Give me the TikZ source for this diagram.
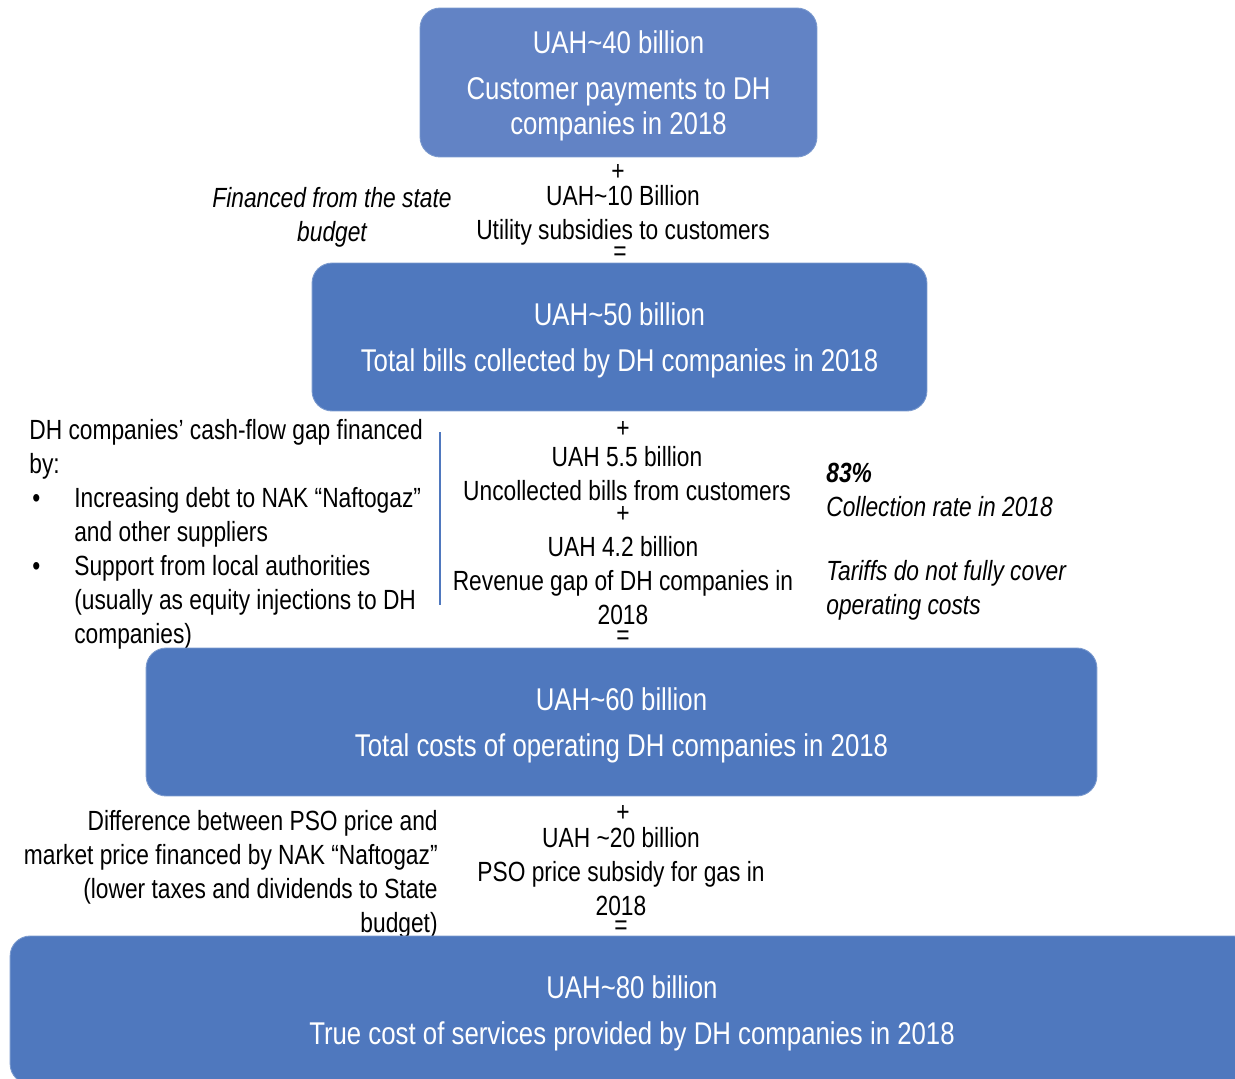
\documentclass[tikz,border=0pt]{standalone}
\usepackage{fontspec}
\setmainfont{Liberation Sans}[FakeStretch=0.82]
\definecolor{topblue}{HTML}{6283C5}
\definecolor{boxblue}{HTML}{4F78BE}
\newcommand\apx{\textasciitilde}
\newcommand\bul{\hspace*{0.06cm}\makebox[0.84cm][l]{\textbullet}}
\newcommand\ind{\hspace*{0.9cm}}
\begin{document}
\begin{tikzpicture}[x=0.02cm,y=-0.02cm,
  sumbox/.style={rounded corners=0.4cm,fill=boxblue,draw=boxblue!75!white,line width=0.5pt,text=white,
    align=center,inner sep=0pt,text depth=0pt,font=\fontsize{17.9}{19.8}\selectfont},
  body/.style={align=center,inner sep=0pt,font=\fontsize{15.8}{19.3}\selectfont},
  note/.style={body,font=\fontsize{15.8}{19.3}\selectfont\itshape},
  op/.style={inner sep=0pt,font=\fontsize{15.8}{19.3}\selectfont}]
  \useasboundingbox (0,0) rectangle (1235,1079);
  \clip (0,0) rectangle (1235,1079);
  % customer payments
  \node[sumbox,fill=topblue,minimum width=7.94cm,minimum height=2.98cm] (pay) at (618.5,82.5)
    {UAH\apx40 billion\\[6.8pt]Customer payments to DH\\companies in 2018};
  \node[op] (plus1) at (618,172) {+};
  \node[body,anchor=base] (subs) at (623,239) {UAH\apx10 Billion\\Utility subsidies to customers};
  \node[op] (eq1) at (620,254) {=};
  \node[note,anchor=base] (state) at (332,241) {Financed from the state\\budget};
  % bills collected
  \node[sumbox,minimum width=12.3cm,minimum height=2.96cm] (bills) at (619.5,337)
    {UAH\apx50 billion\\[6.8pt]Total bills collected by DH companies in 2018};
  \node[op] (plus2) at (623,429) {+};
  \node[body,anchor=base] (uncoll) at (627,500) {UAH 5.5 billion\\Uncollected bills from customers};
  \node[op] (plus3) at (623,514) {+};
  \node[body,anchor=base] (gap) at (623,624) {UAH 4.2 billion\\Revenue gap of DH companies in\\2018};
  \node[op] (eq2) at (623,638) {=};
  \node[body,align=left,anchor=base west] (cash) at (29,643)
    {DH companies’ cash-flow gap financed\\by:\\\bul Increasing debt to NAK “Naftogaz”\\\ind and other suppliers\\
     \bul Support from local authorities\\\ind (usually as equity injections to DH\\\ind companies)};
  \draw[boxblue,line width=1.6pt] (440,432) -- (440,605);
  \node[note,align=left,anchor=base west] (rate) at (826,614)
    {\textbf{83\%}\\Collection rate in 2018\\[17pt]Tariffs do not fully cover\\operating costs};
  % operating costs
  \node[sumbox,minimum width=19.02cm,minimum height=2.96cm] (costs) at (621.5,722)
    {UAH\apx60 billion\\[6.8pt]Total costs of operating DH companies in 2018};
  \node[op] (plus4) at (623,813) {+};
  \node[body,anchor=base] (pso) at (621,915) {UAH \apx20 billion\\PSO price subsidy for gas in\\2018};
  \node[op] (eq3) at (621,928) {=};
  \node[body,align=right,anchor=base east] (naft) at (438,932)
    {Difference between PSO price and\\market price financed by NAK “Naftogaz”\\(lower taxes and dividends to State\\budget)};
  % true cost
  \node[sumbox,minimum width=24.88cm,minimum height=2.96cm] (truecost) at (632,1010)
    {UAH\apx80 billion\\[6.8pt]True cost of services provided by DH companies in 2018};
\end{tikzpicture}
\end{document}
